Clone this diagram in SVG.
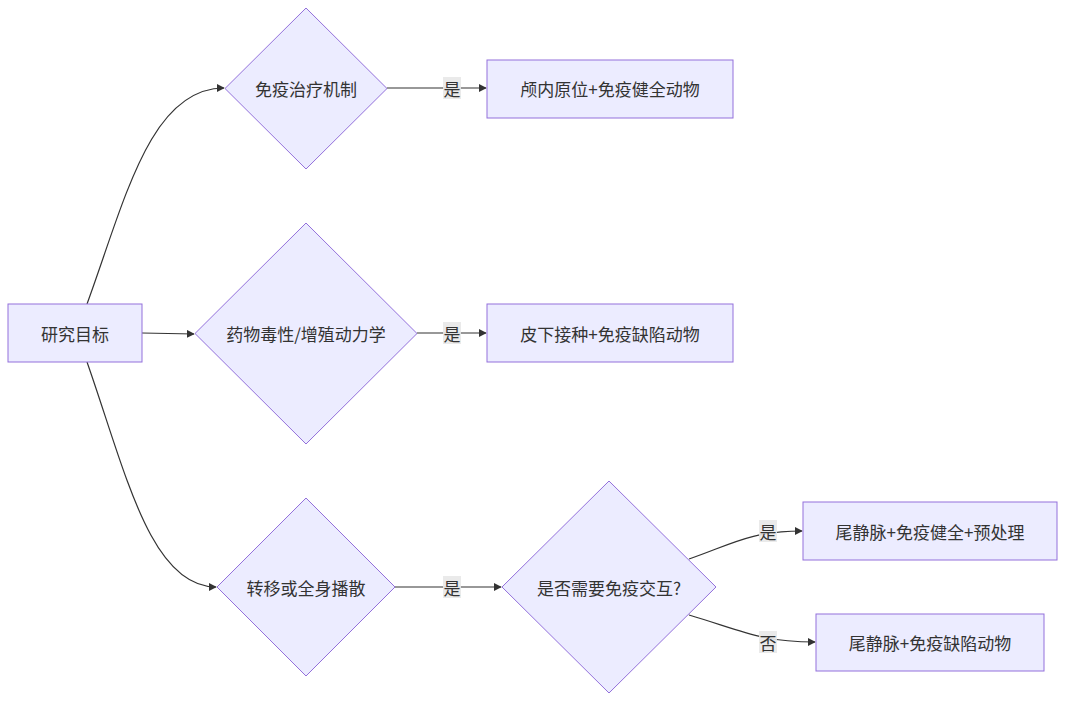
<svg xmlns="http://www.w3.org/2000/svg" width="1066" height="702" viewBox="0 0 1066 702">
<defs>
<style>
.node rect,.node polygon{fill:#ECECFF;stroke:#9370DB;stroke-width:1}
.node text,.lbl text{font-family:"Noto Sans CJK SC","Noto Sans",sans-serif;font-size:17px;fill:#333;text-anchor:middle;dominant-baseline:central}
.edge{fill:none;stroke:#333;stroke-width:1.2}
.lbl rect{fill:#e8e8e8;opacity:0.9}
</style>
<marker id="arr" viewBox="0 0 10 10" refX="9" refY="5" markerWidth="8" markerHeight="8" markerUnits="userSpaceOnUse" orient="auto">
<path d="M0,0 L10,5 L0,10 z" fill="#333"/>
</marker>
</defs>
<rect width="1066" height="702" fill="#fff"/>
<g id="edges">
<path class="edge" d="M87,304 C125,200 150,88 224,88" marker-end="url(#arr)"/>
<path class="edge" d="M142,333 L194,334" marker-end="url(#arr)"/>
<path class="edge" d="M87,362 C125,470 150,587 216,587" marker-end="url(#arr)"/>
<path class="edge" d="M387,88 L486,88" marker-end="url(#arr)"/>
<path class="edge" d="M417,333 L486,333" marker-end="url(#arr)"/>
<path class="edge" d="M395,587 L501,587" marker-end="url(#arr)"/>
<path class="edge" d="M689,559 C730,545 750,531 802,531" marker-end="url(#arr)"/>
<path class="edge" d="M689,615 C740,630 760,642 815,642" marker-end="url(#arr)"/>
</g>
<g id="labels" class="lbl">
<g><rect x="443" y="77" width="18" height="22"/><text x="452" y="88">是</text></g>
<g><rect x="443" y="322" width="18" height="22"/><text x="452" y="333">是</text></g>
<g><rect x="443" y="576" width="18" height="22"/><text x="452" y="587">是</text></g>
<g><rect x="759" y="520" width="18" height="22"/><text x="768" y="531">是</text></g>
<g><rect x="759" y="631" width="18" height="22"/><text x="768" y="642">否</text></g>
</g>
<g id="n_goal" class="node"><rect x="8" y="304" width="134" height="58"/><text x="75" y="333">研究目标</text></g>
<g id="n_d1" class="node"><polygon points="306,8 387,88.5 306,169 225,88.5"/><text x="306" y="88.5">免疫治疗机制</text></g>
<g id="n_r1" class="node"><rect x="487" y="60" width="246" height="58"/><text x="610" y="88">颅内原位+免疫健全动物</text></g>
<g id="n_d2" class="node"><polygon points="306,223 417,333.5 306,444 195,333.5"/><text x="306" y="333">药物毒性/增殖动力学</text></g>
<g id="n_r2" class="node"><rect x="487" y="304" width="246" height="58"/><text x="610" y="333">皮下接种+免疫缺陷动物</text></g>
<g id="n_d3" class="node"><polygon points="306,498 395,587 306,676 217,587"/><text x="306" y="587">转移或全身播散</text></g>
<g id="n_d4" class="node"><polygon points="609,481 716,587 609,693 502,587"/><text x="609" y="587">是否需要免疫交互?</text></g>
<g id="n_r3" class="node"><rect x="803" y="502" width="254" height="58"/><text x="930" y="531">尾静脉+免疫健全+预处理</text></g>
<g id="n_r4" class="node"><rect x="816" y="614" width="228" height="57"/><text x="930" y="642">尾静脉+免疫缺陷动物</text></g>
</svg>
